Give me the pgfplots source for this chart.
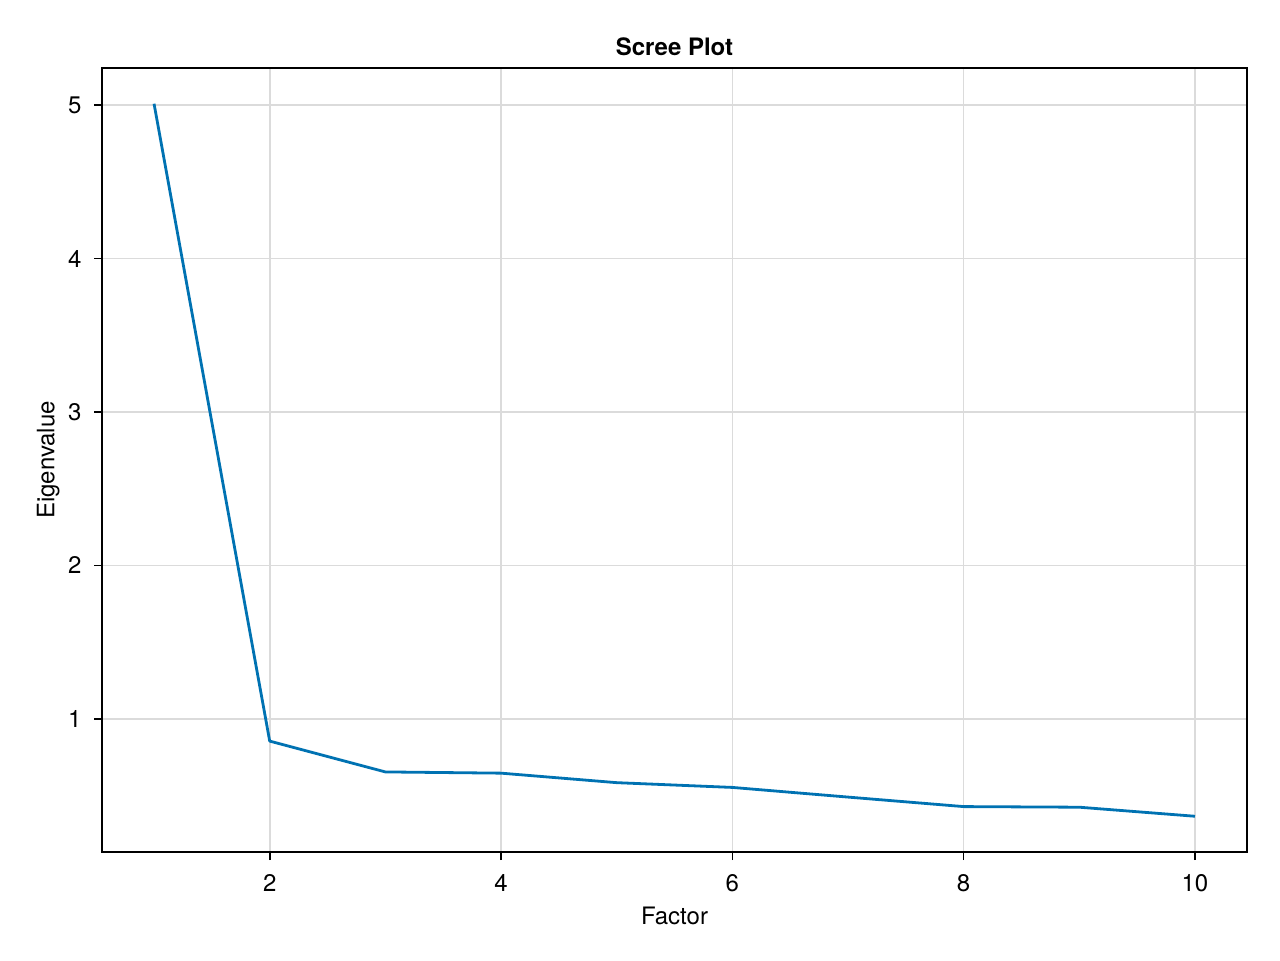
\documentclass[border=0pt]{standalone}
\usepackage{fontspec}
\setmainfont{TeX Gyre Heros}
\usepackage{pgfplots}
\pgfplotsset{compat=1.18}
\usetikzlibrary{calc}
\definecolor{line1}{RGB}{0,114,178}
\begin{document}
\fontsize{18pt}{21pt}\selectfont
\begin{tikzpicture}
\path (0,0) rectangle (960pt,720pt);
\begin{axis}[
  at={(76.5pt,81pt)}, anchor=south west,
  scale only axis, width=858.75pt, height=588pt,
  xmin=0.55, xmax=10.45, ymin=0.132, ymax=5.243,
  xtick={2,4,6,8,10}, ytick={1,2,3,4,5},
  tick align=outside, tick pos=left,
  major tick length=6pt,
  tick style={black, line width=1.2pt},
  axis line style={line width=1.2pt},
  grid=major,
  major grid style={black!14, line width=1.2pt},
  /pgf/number format/assume math mode=true,
  tick label style={font=\fontsize{18pt}{21pt}\selectfont},
  xticklabel style={anchor=base, inner sep=0pt, yshift=-23.25pt},
  yticklabel style={anchor=east, inner sep=0pt, xshift=-9.2pt},
  title={Scree Plot},
  title style={at={(axis description cs:0.5,1)}, anchor=base, yshift=3.7pt, inner sep=0pt, font=\fontsize{18pt}{21pt}\selectfont\bfseries},
  xlabel={Factor},
  xlabel style={at={(axis description cs:0.5,0)}, anchor=base, inner sep=0pt, yshift=-54.2pt, font=\fontsize{18pt}{21pt}\selectfont},
  ylabel={Eigenvalue},
  ylabel style={at={($(axis description cs:0,0.5)+(-35.8pt,0)$)}, anchor=base, inner sep=0pt, font=\fontsize{18pt}{21pt}\selectfont},
]
\addplot[line1, line width=2.1pt, line join=round] coordinates {
  (1,5.010) (2,0.855) (3,0.654) (4,0.646) (5,0.584)
  (6,0.553) (7,0.490) (8,0.428) (9,0.424) (10,0.365)
};
\end{axis}
\end{tikzpicture}
\end{document}
